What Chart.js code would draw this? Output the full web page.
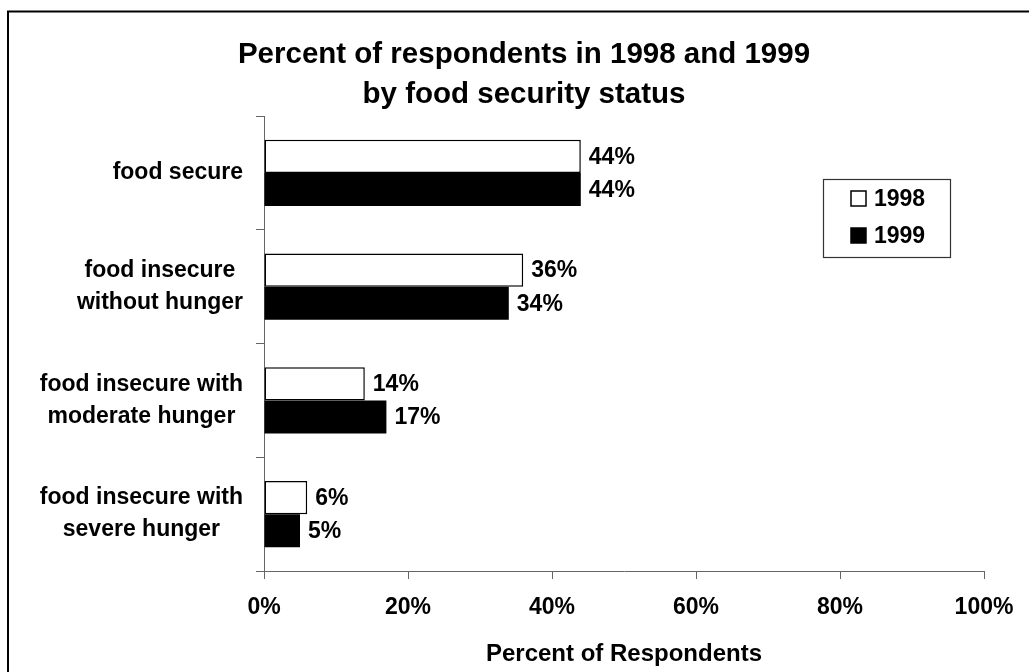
<!DOCTYPE html>
<html>
<head>
<meta charset="utf-8">
<script src="https://cdn.jsdelivr.net/npm/chart.js@4"></script>
<style>
  html, body { margin: 0; padding: 0; background: #fff; }
  #wrap { width: 1029px; height: 672px; position: relative; }
</style>
</head>
<body>
<div id="wrap"><canvas id="c"></canvas></div>
<script>
// Food security status categories (multi-line labels)
const categories = [
  ['food secure'],
  ['food insecure', 'without hunger'],
  ['food insecure with', 'moderate hunger'],
  ['food insecure with', 'severe hunger']
];
const seriesNames = ['1998', '1999'];
const values1998 = [44, 36, 14, 6];
const values1999 = [44, 34, 17, 5];
const percentTicks = [0, 20, 40, 60, 80, 100];

const FONT = '"Liberation Sans", Arial, sans-serif';
const AXIS_GREY = '#666666';

// Outer frame line along the left and top edges
const framePlugin = {
  id: 'frame',
  beforeDraw(chart) {
    const ctx = chart.ctx;
    ctx.save();
    ctx.fillStyle = '#fff';
    ctx.fillRect(0, 0, chart.width, chart.height);
    ctx.strokeStyle = '#000';
    ctx.lineWidth = 2;
    ctx.strokeRect(8, 11.5, chart.width + 50, chart.height + 50);
    ctx.restore();
  }
};

// Category labels: each label block right-aligned, its lines centred within the block
const categoryLabelPlugin = {
  id: 'categoryLabels',
  afterDraw(chart) {
    const ctx = chart.ctx;
    const y = chart.scales.y;
    const right = chart.chartArea.left - 21;
    const lineGap = 32;
    ctx.save();
    ctx.font = 'bold 23px ' + FONT;
    ctx.fillStyle = '#000';
    ctx.textAlign = 'center';
    ctx.textBaseline = 'middle';
    chart.data.labels.forEach((lines, i) => {
      const cy = y.getPixelForValue(i);
      const widest = Math.max(...lines.map(l => ctx.measureText(l).width));
      const cx = right - widest / 2;
      lines.forEach((line, j) => {
        ctx.fillText(line, cx, cy + (j - (lines.length - 1) / 2) * lineGap);
      });
    });
    ctx.restore();
  }
};

// Value labels at the end of each bar
const valueLabelPlugin = {
  id: 'valueLabels',
  afterDatasetsDraw(chart) {
    const ctx = chart.ctx;
    ctx.save();
    ctx.font = 'bold 23px ' + FONT;
    ctx.fillStyle = '#000';
    ctx.textAlign = 'left';
    ctx.textBaseline = 'middle';
    chart.data.datasets.forEach((ds, di) => {
      chart.getDatasetMeta(di).data.forEach((bar, i) => {
        ctx.fillText(ds.data[i] + '%', bar.x + 8, bar.y + 1);
      });
    });
    ctx.restore();
  }
};

// Boxed legend inside the plot area
const boxLegendPlugin = {
  id: 'boxLegend',
  afterDraw(chart) {
    const ctx = chart.ctx;
    const a = chart.chartArea;
    const boxR = a.right - 34, boxT = a.top + 63;
    const boxW = 127, boxH = 78;
    const boxL = boxR - boxW;
    ctx.save();
    ctx.fillStyle = '#fff';
    ctx.fillRect(boxL, boxT, boxW, boxH);
    ctx.strokeStyle = '#333';
    ctx.lineWidth = 1.2;
    ctx.strokeRect(boxL + 0.5, boxT + 0.5, boxW, boxH);
    ctx.font = 'bold 23px ' + FONT;
    ctx.textAlign = 'left';
    ctx.textBaseline = 'middle';
    chart.data.datasets.forEach((ds, i) => {
      const cy = boxT + 19.5 + i * 37;
      const sx = boxL + 28, sz = 15;
      ctx.fillStyle = ds.backgroundColor;
      ctx.fillRect(sx, cy - sz / 2, sz, sz);
      ctx.strokeStyle = '#000';
      ctx.lineWidth = 1.5;
      ctx.strokeRect(sx, cy - sz / 2, sz, sz);
      ctx.fillStyle = '#000';
      ctx.fillText(ds.label, sx + 23, cy + 1);
    });
    ctx.restore();
  }
};

new Chart(document.getElementById('c'), {
  type: 'bar',
  data: {
    labels: categories,
    datasets: [
      {
        label: seriesNames[0],
        data: values1998,
        backgroundColor: '#ffffff',
        borderColor: '#000000',
        borderWidth: 1.5,
        borderSkipped: false
      },
      {
        label: seriesNames[1],
        data: values1999,
        backgroundColor: '#000000',
        borderColor: '#000000',
        borderWidth: 0
      }
    ]
  },
  options: {
    indexAxis: 'y',
    responsive: true,
    maintainAspectRatio: false,
    animation: false,
    devicePixelRatio: 1,
    categoryPercentage: 0.583,
    barPercentage: 1,
    layout: { padding: { left: 64, right: 45, top: 35, bottom: 3.6 } },
    plugins: {
      legend: { display: false },
      tooltip: { enabled: false },
      title: {
        display: true,
        text: ['Percent of respondents in 1998 and 1999', 'by food security status'],
        color: '#000',
        font: { family: FONT, size: 29.5, weight: 'bold', lineHeight: 40 / 29.5 },
        padding: { top: 0, bottom: 1 }
      }
    },
    scales: {
      x: {
        type: 'linear',
        min: 0,
        max: 100,
        afterBuildTicks(scale) {
          scale.ticks = percentTicks.map(v => ({ value: v }));
        },
        ticks: {
          callback: v => v + '%',
          color: '#000',
          font: { family: FONT, size: 23, weight: 'bold' },
          padding: 15,
          maxRotation: 0
        },
        grid: {
          drawOnChartArea: false,
          drawTicks: true,
          tickLength: 8,
          color: AXIS_GREY,
          lineWidth: 1
        },
        border: { display: true, color: AXIS_GREY, width: 1 },
        title: {
          display: true,
          text: 'Percent of Respondents',
          color: '#000',
          font: { family: FONT, size: 24, weight: 'bold', lineHeight: 1.2 },
          padding: { top: 3, bottom: 0 }
        }
      },
      y: {
        type: 'category',
        offset: true,
        ticks: { display: false },
        grid: {
          offset: true,
          drawOnChartArea: false,
          drawTicks: true,
          tickLength: 8,
          color: AXIS_GREY,
          lineWidth: 1
        },
        border: { display: true, color: AXIS_GREY, width: 1 },
        afterFit(scale) { scale.width = 200; }
      }
    }
  },
  plugins: [framePlugin, categoryLabelPlugin, valueLabelPlugin, boxLegendPlugin]
});
</script>
</body>
</html>
